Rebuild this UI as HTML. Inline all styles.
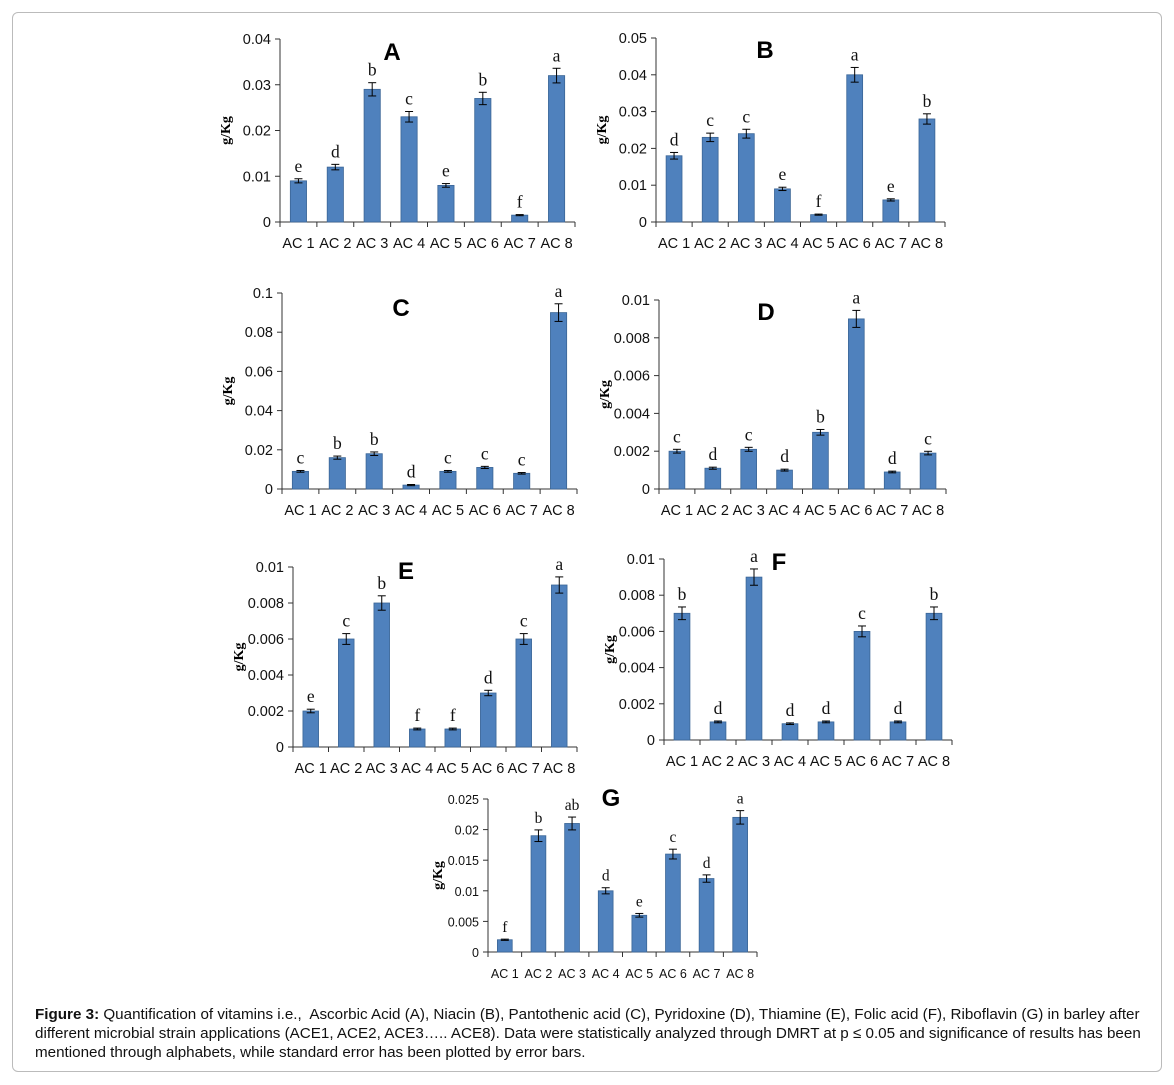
<!DOCTYPE html>
<html><head><meta charset="utf-8">
<style>
html,body{margin:0;padding:0;background:#fff;}
#frame{position:absolute;left:12px;top:12px;width:1150px;height:1060px;border:1px solid #bbb;border-radius:6px;box-sizing:border-box;}
#cap{position:absolute;left:35px;top:1005px;width:1125px;white-space:nowrap;font-family:"Liberation Sans",Arial,sans-serif;font-size:15.2px;line-height:19px;color:#111;}
svg{position:absolute;left:0;top:0;}
</style></head>
<body>
<div id="frame"></div>
<svg id="chart" width="1174" height="1085"></svg>
<div id="cap"><b>Figure 3:</b> Quantification of vitamins i.e.,&nbsp; Ascorbic Acid (A), Niacin (B), Pantothenic acid (C), Pyridoxine (D), Thiamine (E), Folic acid (F), Riboflavin (G) in barley after<br>different microbial strain applications (ACE1, ACE2, ACE3….. ACE8). Data were statistically analyzed through DMRT at p ≤ 0.05 and significance of results has been<br>mentioned through alphabets, while standard error has been plotted by error bars.</div>
<script>
const categories=["AC 1","AC 2","AC 3","AC 4","AC 5","AC 6","AC 7","AC 8"];
const valuesA=[0.009,0.012,0.029,0.023,0.008,0.027,0.0015,0.032];
const lettersA=["e","d","b","c","e","b","f","a"];
const ticksA=["0","0.01","0.02","0.03","0.04"];
const valuesB=[0.018,0.023,0.024,0.009,0.002,0.040,0.006,0.028];
const lettersB=["d","c","c","e","f","a","e","b"];
const ticksB=["0","0.01","0.02","0.03","0.04","0.05"];
const valuesC=[0.009,0.016,0.018,0.002,0.009,0.011,0.008,0.090];
const lettersC=["c","b","b","d","c","c","c","a"];
const ticksC=["0","0.02","0.04","0.06","0.08","0.1"];
const valuesD=[0.002,0.0011,0.0021,0.001,0.003,0.009,0.0009,0.0019];
const lettersD=["c","d","c","d","b","a","d","c"];
const ticksD=["0","0.002","0.004","0.006","0.008","0.01"];
const valuesE=[0.002,0.006,0.008,0.001,0.001,0.003,0.006,0.009];
const lettersE=["e","c","b","f","f","d","c","a"];
const ticksE=["0","0.002","0.004","0.006","0.008","0.01"];
const valuesF=[0.007,0.001,0.009,0.0009,0.001,0.006,0.001,0.007];
const lettersF=["b","d","a","d","d","c","d","b"];
const ticksF=["0","0.002","0.004","0.006","0.008","0.01"];
const valuesG=[0.002,0.019,0.021,0.010,0.006,0.016,0.012,0.022];
const lettersG=["f","b","ab","d","e","c","d","a"];
const ticksG=["0","0.005","0.01","0.015","0.02","0.025"];

const panels=[
 {id:"a",title:"A",vals:valuesA,let:lettersA,ticks:ticksA,x0:280,x1:575,y0:222,y1:39,tx:392,ty:60,fs:14.5},
 {id:"b",title:"B",vals:valuesB,let:lettersB,ticks:ticksB,x0:656,x1:945,y0:222,y1:38,tx:765,ty:58,fs:14.5},
 {id:"c",title:"C",vals:valuesC,let:lettersC,ticks:ticksC,x0:282,x1:577,y0:489,y1:293,tx:401,ty:316,fs:14.5},
 {id:"d",title:"D",vals:valuesD,let:lettersD,ticks:ticksD,x0:659,x1:946,y0:489,y1:300,tx:766,ty:320,fs:14.5},
 {id:"e",title:"E",vals:valuesE,let:lettersE,ticks:ticksE,x0:293,x1:577,y0:747,y1:567,tx:406,ty:579,fs:14.5},
 {id:"f",title:"F",vals:valuesF,let:lettersF,ticks:ticksF,x0:664,x1:952,y0:740,y1:559,tx:779,ty:570,fs:14.5},
 {id:"g",title:"G",vals:valuesG,let:lettersG,ticks:ticksG,x0:488,x1:757,y0:952,y1:799,tx:611,ty:806,fs:12.5}
];
const NS="http://www.w3.org/2000/svg";
const svg=document.getElementById("chart");
function mk(tag,attrs,parent,text){const e=document.createElementNS(NS,tag);for(const k in attrs)e.setAttribute(k,attrs[k]);if(text!==undefined)e.textContent=text;parent.appendChild(e);return e;}
panels.forEach(p=>{
 const g=mk("g",{},svg);
 
 
 const maxV=parseFloat(p.ticks[p.ticks.length-1]);
 const ys=v=>p.y0-(v/maxV)*(p.y0-p.y1);
 const bw=(p.x1-p.x0)/categories.length;
 const xs=i=>p.x0+bw*(i+0.5);
 const ya=mk("line",{x1:p.x0,y1:p.y0,x2:p.x0,y2:p.y1,stroke:"#333","stroke-width":1},g);
 
 
 p.ticks.forEach(t=>{const y=ys(parseFloat(t));
  mk("line",{x1:p.x0-5,y1:y,x2:p.x0,y2:y,stroke:"#333"},g);
  const tl=mk("text",{x:p.x0-9,y:y+5,"text-anchor":"end","font-family":"Liberation Sans, Arial, sans-serif","font-size":p.fs,fill:"#111"},g,t);
  
  
 });
 const xa=mk("line",{x1:p.x0,y1:p.y0,x2:p.x1,y2:p.y0,stroke:"#333"},g);
 
 
 for(let i=0;i<=categories.length;i++){const x=p.x0+bw*i;mk("line",{x1:x,y1:p.y0,x2:x,y2:p.y0+5,stroke:"#333"},g);}
 categories.forEach((c,i)=>{
  const cl=mk("text",{x:xs(i),y:p.y0+26,"text-anchor":"middle","font-family":"Liberation Sans, Arial, sans-serif","font-size":p.fs,fill:"#111"},g,c);
  
  
  const v=p.vals[i];const y=ys(v);const w=bw*0.44;
  const b=mk("rect",{x:xs(i)-w/2,y:y,width:w,height:p.y0-y,fill:"#4f81bd",stroke:"#3a6596","stroke-width":0.8},g);
  
  
  const e=Math.max(v*0.05,maxV*0.003);const ye1=ys(v+e),ye2=ys(v-e);
  mk("line",{x1:xs(i),y1:ye1,x2:xs(i),y2:ye2,stroke:"#000"},g);
  mk("line",{x1:xs(i)-4,y1:ye1,x2:xs(i)+4,y2:ye1,stroke:"#000"},g);
  mk("line",{x1:xs(i)-4,y1:ye2,x2:xs(i)+4,y2:ye2,stroke:"#000"},g);
  const lt=mk("text",{x:xs(i),y:ye1-7,"text-anchor":"middle","font-family":"Liberation Serif, serif","font-size":p.fs+3,fill:"#111"},g,p.let[i]);
  
  
 });
 const tt=mk("text",{x:p.tx,y:p.ty,"text-anchor":"middle","font-family":"Liberation Sans, Arial, sans-serif","font-size":24,"font-weight":"bold",fill:"#000"},g,p.title);
 
 
 const cy=(p.y0+p.y1)/2, cx=p.x0-50-(p.fs<14?-4:0);
 const yl=mk("text",{x:cx,y:cy,transform:"rotate(-90 "+cx+" "+cy+")","text-anchor":"middle","font-family":"Liberation Serif, serif","font-size":14,"font-weight":"bold",fill:"#000"},g,"g/Kg");
 
 
});
</script>
</body></html>
